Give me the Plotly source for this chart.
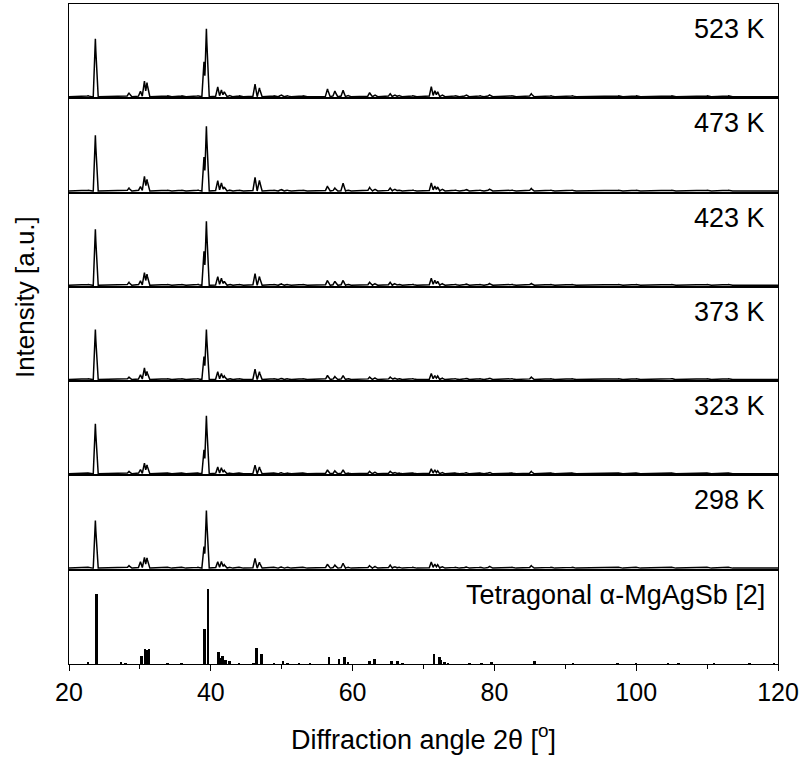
import numpy as np
import plotly.graph_objects as go
from plotly.subplots import make_subplots

# ---------------- data ----------------
temps = ["523 K", "473 K", "423 K", "373 K", "323 K", "298 K"]

# peak positions (2theta, deg) of the measured patterns
peak_pos = [22.7, 27.4, 28.45, 30.07, 30.63, 31.0, 33.9, 35.9, 38.2, 39.04, 39.38,
            40.97, 41.5, 41.9, 42.6, 44.0, 46.23, 46.85, 48.9, 49.9, 50.8, 53.0,
            56.45, 57.5, 58.65, 59.3, 62.4, 63.1, 65.3, 65.9, 66.5, 68.5, 71.1,
            71.6, 72.0, 72.6, 74.5, 76.0, 78.0, 79.3, 82.5, 85.2, 88.0, 91.0,
            97.5, 100.0, 105.0, 110.0, 113.0, 23.72]

# relative intensities (same order as peak_pos), one list per temperature
I_523 = [1.0, 0.6, 4.0, 5.6, 16, 14, 0.8, 0.8, 1.2, 35, 68, 10, 6.6, 5, 1.5, 0.8,
         13, 9, 0.8, 2, 1, 0.8, 8, 5.6, 6.6, 1.5, 4, 2, 3, 2, 1.5, 1, 10, 6, 5,
         2, 1, 2, 1, 2, 1, 3, 1, 1, 0.8, 0.8, 0.8, 0.8, 0.8, 58]
I_473 = [0.8, 0.6, 3.0, 4.5, 15, 11.6, 0.8, 0.8, 1.0, 34, 64.6, 10.6, 8, 4, 1.2, 0.8,
         14, 11, 0.8, 1.8, 1, 0.8, 5, 3, 8, 1.2, 3.5, 2, 3, 2, 1.2, 1, 8, 5, 4,
         2, 1, 1.8, 1, 2, 1, 2.5, 1, 1, 0.8, 0.8, 0.8, 0.8, 0.8, 55.6]
I_423 = [0.8, 0.6, 3.0, 4.5, 13, 11, 0.8, 0.8, 1.0, 34, 64, 9, 7, 4, 1.2, 0.8,
         12, 9, 0.8, 1.8, 1, 0.8, 5, 4, 5, 1.2, 3, 2, 3, 2, 1.2, 1, 7, 5, 4,
         2, 1, 1.5, 1, 2, 1, 2, 1, 1, 0.8, 0.8, 0.8, 0.8, 0.8, 56]
I_373 = [0.8, 0.6, 2.5, 5.0, 12, 8, 0.8, 0.8, 1.0, 23, 50, 8, 6, 3.5, 1.2, 0.8,
         10.7, 8, 0.8, 1.5, 1, 0.8, 4.3, 3, 4, 1.2, 2.5, 2, 2.5, 1.8, 1.2, 1, 6, 4, 3.5,
         1.8, 1, 1.5, 1, 1.8, 1, 2.5, 1, 1, 0.8, 0.8, 1.2, 0.8, 0.8, 50]
I_323 = [0.8, 0.6, 2.5, 4.5, 11, 9, 0.8, 0.8, 1.0, 24, 58, 7, 6, 3.5, 1.2, 0.8,
         9, 7, 0.8, 1.5, 1, 0.8, 4, 3, 4, 1.2, 2.5, 2, 2.5, 1.8, 1.2, 1, 5, 4, 3,
         1.8, 1, 1.5, 1, 1.8, 1, 2.5, 1, 1, 0.8, 0.8, 0.8, 0.8, 0.8, 50]
I_298 = [0.8, 0.6, 2.5, 6.6, 11, 10.3, 0.8, 0.8, 1.0, 21.6, 57.6, 6.6, 6.6, 3.5, 1.2, 0.8,
         10, 6, 0.8, 1.5, 1, 0.8, 4, 3, 5, 1.2, 2.5, 2, 3, 1.8, 1.2, 1, 6, 4, 3.5,
         1.8, 1, 1.5, 1, 2, 1, 2.5, 1, 1, 0.8, 0.8, 0.8, 0.8, 0.8, 47.6]
patterns = [I_523, I_473, I_423, I_373, I_323, I_298]

# reference: tetragonal alpha-MgAgSb stick pattern
ref_label = "Tetragonal \u03b1-MgAgSb [2]"
ref_pos = [22.7, 23.9, 27.4, 28.0, 30.25, 30.77, 30.96, 31.33, 33.9, 35.9, 39.18, 39.66,
           41.1, 41.35, 41.7, 42.1, 42.7, 44.0, 46.05, 46.47, 47.2, 48.97, 50.2, 50.85,
           52.5, 54.0, 56.72, 58.1, 58.9, 59.35, 62.4, 63.1, 65.5, 66.4, 67.1, 71.48,
           72.3, 72.5, 73.0, 73.5, 76.5, 78.2, 79.6, 85.7, 91.1, 97.4, 100.0, 104.5,
           106.0, 111.0, 116.0, 119.5]
ref_int = [2, 70, 2, 1.5, 8, 15, 14, 15, 1, 1, 35, 75,
           12, 6, 8, 4, 3, 1, 1, 16, 10, 1, 3, 1.5,
           1, 1, 7, 5, 7, 2, 3, 5.3, 3, 3, 1, 10,
           7, 4, 2, 1.5, 1, 1.5, 2, 3, 1, 1, 1, 1,
           1, 1, 1, 1]

x_ticks = [20, 40, 60, 80, 100, 120]

# ---------------- figure ----------------
FONT = "Arial, Liberation Sans, Helvetica, sans-serif"
n = 7
fig = make_subplots(rows=n, cols=1, shared_xaxes=True, vertical_spacing=0)

grid = np.arange(20.0, 120.0001, 0.02)
hw = 0.3  # half base width of drawn peak (deg)
for i, ints in enumerate(patterns):
    y = np.zeros_like(grid)
    for p, h in zip(peak_pos, ints):
        y = np.maximum(y, h * np.clip(1 - np.abs(grid - p) / hw, 0, None))
    fig.add_trace(go.Scatter(x=grid, y=y, mode="lines",
                             line=dict(color="black", width=1.5),
                             showlegend=False, hoverinfo="skip"),
                  row=i + 1, col=1)

fig.add_trace(go.Bar(x=ref_pos, y=ref_int, width=0.28,
                     marker=dict(color="black", line=dict(width=0)),
                     showlegend=False), row=n, col=1)

labels = temps + [ref_label]
for r in range(1, n + 1):
    ax = "" if r == 1 else str(r)
    fig.update_yaxes(row=r, col=1, range=[-1.6, 92.7] if r < n else [0, 94.3],
                     showline=True, mirror=True, linecolor="black", linewidth=1.3,
                     ticks="", showticklabels=False, showgrid=False, zeroline=False,
                     fixedrange=True)
    fig.update_xaxes(row=r, col=1, range=[20, 120], showline=True, mirror=True,
                     linecolor="black", linewidth=1.3, showgrid=False, zeroline=False,
                     ticks="" if r < n else "outside")
    fig.add_annotation(text=labels[r - 1], xref="x" + ax + " domain", yref="y" + ax + " domain",
                       x=0.984, y=0.735, xanchor="right", yanchor="middle", showarrow=False,
                       font=dict(family=FONT, size=27, color="black"))

fig.update_xaxes(row=n, col=1, tickvals=x_ticks, ticklen=6, tickwidth=1.3, tickcolor="black",
                 minor=dict(dtick=10, ticks="outside", ticklen=4, tickwidth=1.3, tickcolor="black"),
                 tickfont=dict(family=FONT, size=25, color="black"),
                 title=dict(text="Diffraction angle 2\u03b8 [<sup>o</sup>]",
                            font=dict(family=FONT, size=27, color="black"), standoff=24))

fig.add_annotation(text="Intensity [a.u.]", xref="paper", yref="paper", x=-0.062, y=0.556,
                   textangle=-90, showarrow=False, xanchor="center", yanchor="middle",
                   font=dict(family=FONT, size=26, color="black"))

fig.update_layout(width=805, height=758, margin=dict(l=69, r=27, t=4, b=94),
                  plot_bgcolor="white", paper_bgcolor="white", bargap=0)

fig.write_html("out.html")
